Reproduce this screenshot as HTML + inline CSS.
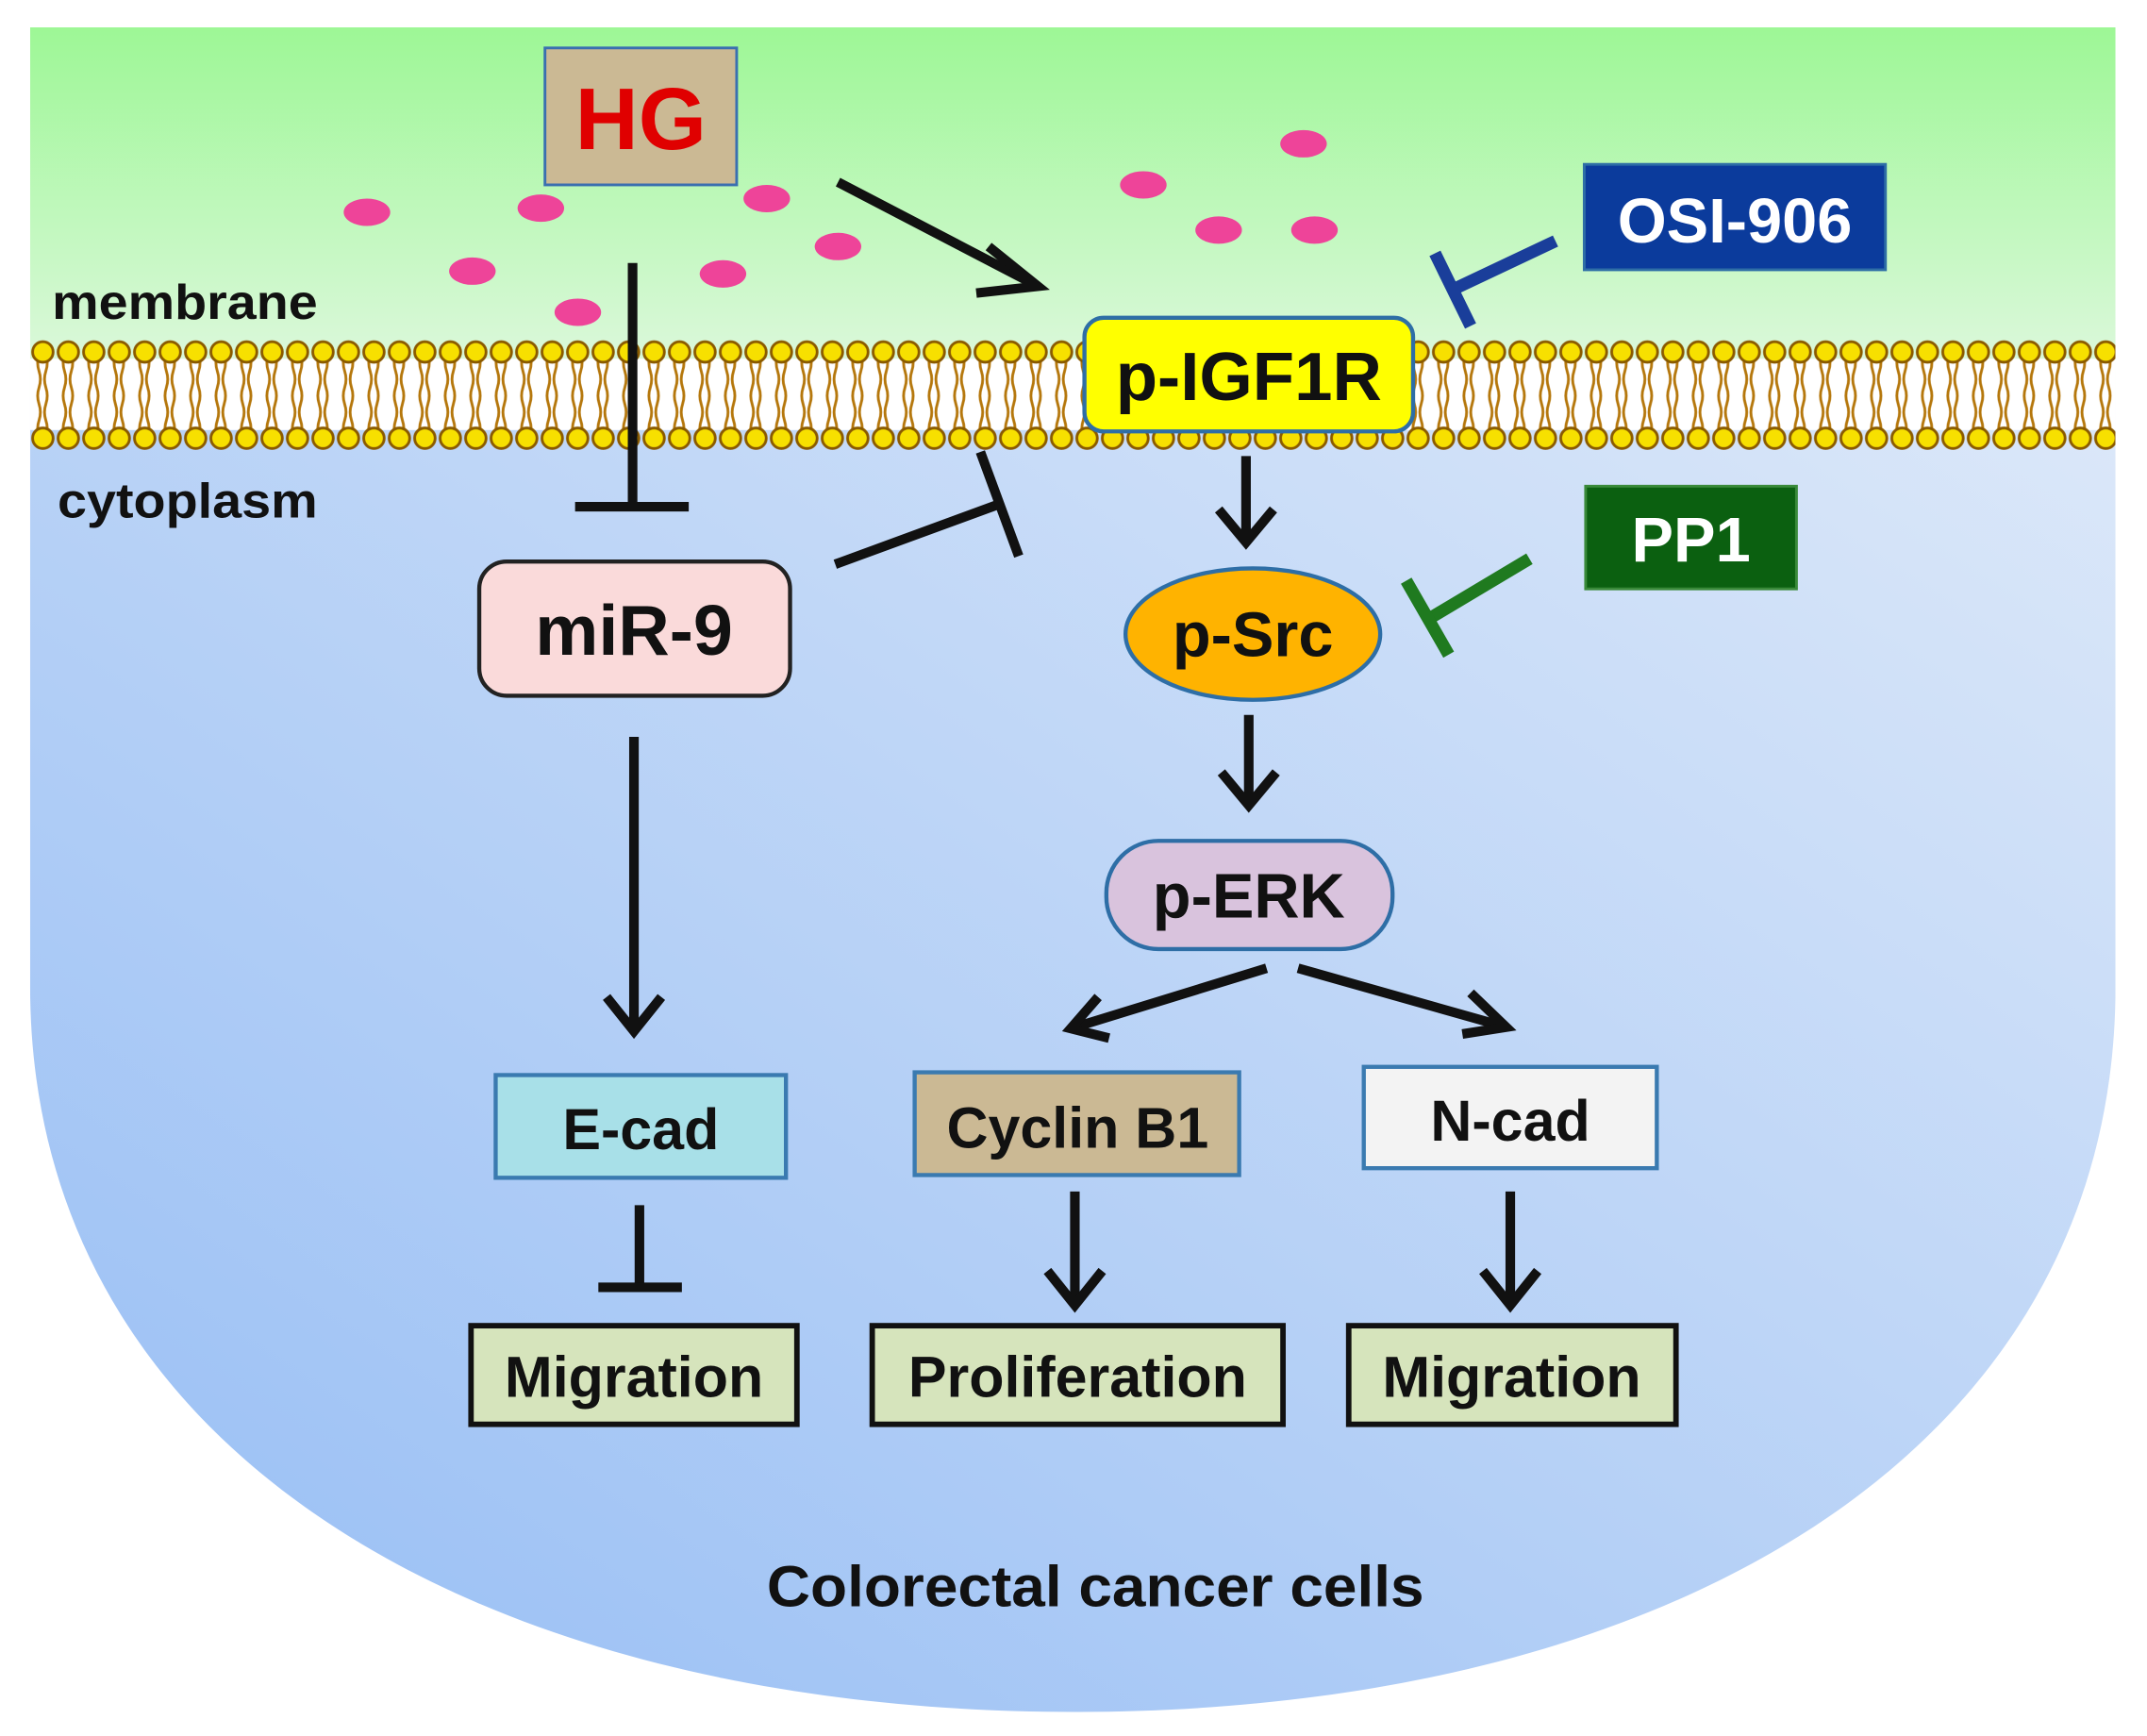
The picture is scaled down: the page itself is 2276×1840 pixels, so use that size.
<!DOCTYPE html>
<html><head><meta charset="utf-8"><style>
html,body{margin:0;padding:0;background:#fff;}
svg{display:block;}
text{font-family:"Liberation Sans",Arial,sans-serif;font-weight:bold;}
</style></head><body>
<svg width="2276" height="1840" viewBox="0 0 1568 1267.6" preserveAspectRatio="none" xmlns="http://www.w3.org/2000/svg">
<defs>
<linearGradient id="gg" x1="0" y1="0" x2="0" y2="1">
<stop offset="0" stop-color="#98f790"/><stop offset="1" stop-color="#e2f8e2"/>
</linearGradient>
<linearGradient id="bg" x1="1" y1="0" x2="0" y2="1">
<stop offset="0" stop-color="#dce8f9"/><stop offset="1" stop-color="#94bcf4"/>
</linearGradient>
<clipPath id="cell"><path d="M22,20 H1545 V720 C1545,1060 1220,1250 785,1250 C350,1250 22,1060 22,720 Z"/></clipPath>
<pattern id="lip" x="22" y="245" width="18.6" height="90" patternUnits="userSpaceOnUse">
<path d="M6.5,14 q-2,6 0,12 t0,12 t0,12 t0,12 t0,10 M11.5,14 q2,6 0,12 t0,12 t0,12 t0,12 t0,10" fill="none" stroke="#b5770c" stroke-width="2"/>
<circle cx="9.3" cy="12" r="7.5" fill="#f7e000" stroke="#8a5a00" stroke-width="2"/>
<circle cx="9.3" cy="75" r="7.5" fill="#f7e000" stroke="#8a5a00" stroke-width="2"/>
</pattern>
</defs>
<g clip-path="url(#cell)">
<rect x="0" y="0" width="1568" height="290" fill="url(#gg)"/>
<rect x="0" y="290" width="1568" height="1000" fill="url(#bg)"/>
<rect x="22" y="262" width="1523" height="52" fill="#fff"/>
<rect x="22" y="245" width="1523" height="90" fill="url(#lip)"/>
</g>
<text x="38" y="233" font-size="36" fill="#111" textLength="194" lengthAdjust="spacingAndGlyphs">membrane</text>
<text x="42" y="378" font-size="36" fill="#111" textLength="190" lengthAdjust="spacingAndGlyphs">cytoplasm</text>

<rect x="398" y="35" width="140" height="100" fill="#cbb994" stroke="#3a6fb0" stroke-width="2"/>
<text x="468" y="109" font-size="64" fill="#e00000" text-anchor="middle">HG</text>

<g fill="#ee4499">
<ellipse cx="268" cy="155" rx="17" ry="10"/><ellipse cx="395" cy="152" rx="17" ry="10"/>
<ellipse cx="560" cy="145" rx="17" ry="10"/><ellipse cx="612" cy="180" rx="17" ry="10"/>
<ellipse cx="345" cy="198" rx="17" ry="10"/><ellipse cx="528" cy="200" rx="17" ry="10"/>
<ellipse cx="422" cy="228" rx="17" ry="10"/><ellipse cx="835" cy="135" rx="17" ry="10"/>
<ellipse cx="952" cy="105" rx="17" ry="10"/><ellipse cx="890" cy="168" rx="17" ry="10"/>
<ellipse cx="960" cy="168" rx="17" ry="10"/>
</g>

<g stroke="#111" stroke-width="7" fill="none" stroke-linecap="butt">
<line x1="612" y1="133" x2="758" y2="209"/>
<polyline points="722,180 758,209 713,214"/>
<line x1="462" y1="192" x2="462" y2="370"/>
<line x1="420" y1="370" x2="503" y2="370"/>
<line x1="610" y1="412" x2="730" y2="368"/>
<line x1="716" y1="330" x2="744" y2="406"/>
<line x1="910" y1="333" x2="910" y2="396"/>
<polyline points="890,372 910,396 930,372"/>
<line x1="912" y1="522" x2="912" y2="588"/>
<polyline points="892,564 912,588 932,564"/>
<line x1="925" y1="707" x2="782" y2="751"/>
<polyline points="802,728 782,751 810,758"/>
<line x1="948" y1="707" x2="1100" y2="750"/>
<polyline points="1074,725 1100,750 1068,755"/>
<line x1="463" y1="538" x2="463" y2="753"/>
<polyline points="443,728 463,753 483,728"/>
<line x1="467" y1="880" x2="467" y2="940"/>
<line x1="437" y1="940" x2="498" y2="940"/>
<line x1="785" y1="870" x2="785" y2="953"/>
<polyline points="765,928 785,953 805,928"/>
<line x1="1103" y1="870" x2="1103" y2="953"/>
<polyline points="1083,928 1103,953 1123,928"/>
</g>
<g stroke="#1a3e9a" stroke-width="9">
<line x1="1136" y1="176" x2="1062" y2="211"/><line x1="1048" y1="185" x2="1074" y2="238"/>
</g>
<g stroke="#1f7a1f" stroke-width="9">
<line x1="1117" y1="408" x2="1045" y2="451"/><line x1="1027" y1="424" x2="1058" y2="478"/>
</g>

<rect x="792" y="232" width="240" height="83" rx="14" fill="#ffff00" stroke="#2e6ea6" stroke-width="3"/>
<text x="912" y="292" font-size="50" text-anchor="middle" fill="#111">p-IGF1R</text>

<rect x="1157" y="120" width="220" height="77" fill="#0b3b9c" stroke="#2e6ea6" stroke-width="2"/>
<text x="1267" y="177" font-size="46" text-anchor="middle" fill="#fff">OSI-906</text>

<rect x="1158" y="355" width="154" height="75" fill="#0b6010" stroke="#3a8a3a" stroke-width="2"/>
<text x="1235" y="410" font-size="46" text-anchor="middle" fill="#fff">PP1</text>

<rect x="350" y="410" width="227" height="98" rx="20" fill="#fadada" stroke="#222" stroke-width="3"/>
<text x="463" y="478" font-size="52" text-anchor="middle" fill="#111">miR-9</text>

<ellipse cx="915" cy="463" rx="93" ry="48" fill="#ffb300" stroke="#2e6ea6" stroke-width="3"/>
<text x="915" y="479" font-size="46" text-anchor="middle" fill="#111">p-Src</text>

<rect x="808" y="614" width="209" height="79" rx="38" fill="#d9c3dd" stroke="#2e6ea6" stroke-width="3"/>
<text x="912" y="670" font-size="46" text-anchor="middle" fill="#111">p-ERK</text>

<rect x="362" y="785" width="212" height="75" fill="#a8e0e8" stroke="#3a7ab0" stroke-width="3"/>
<text x="468" y="839" font-size="42" text-anchor="middle" fill="#111">E-cad</text>
<rect x="668" y="783" width="237" height="75" fill="#cbb994" stroke="#3a7ab0" stroke-width="3"/>
<text x="787" y="838" font-size="42" text-anchor="middle" fill="#111">Cyclin B1</text>
<rect x="996" y="779" width="214" height="74" fill="#f3f3f3" stroke="#3a7ab0" stroke-width="3"/>
<text x="1103" y="833" font-size="42" text-anchor="middle" fill="#111">N-cad</text>

<g fill="#d6e4bc" stroke="#111" stroke-width="4">
<rect x="344" y="968" width="238" height="72"/>
<rect x="637" y="968" width="300" height="72"/>
<rect x="985" y="968" width="239" height="72"/>
</g>
<text x="463" y="1020" font-size="42" text-anchor="middle" fill="#111">Migration</text>
<text x="787" y="1020" font-size="42" text-anchor="middle" fill="#111">Proliferation</text>
<text x="1104" y="1020" font-size="42" text-anchor="middle" fill="#111">Migration</text>

<text x="800" y="1173" font-size="42" text-anchor="middle" fill="#111" textLength="480" lengthAdjust="spacingAndGlyphs">Colorectal cancer cells</text>
</svg>
</body></html>
